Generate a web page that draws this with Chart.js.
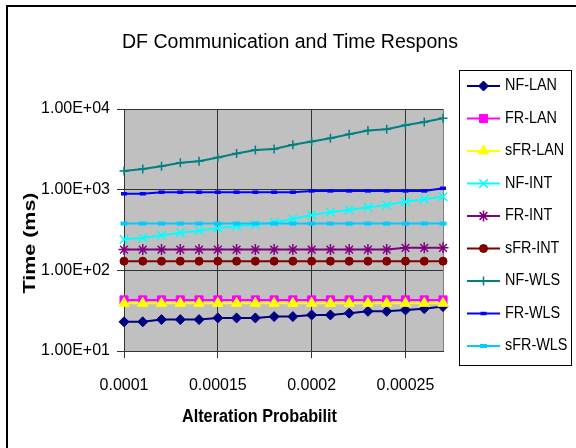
<!DOCTYPE html>
<html>
<head>
<meta charset="utf-8">
<script src="https://cdn.jsdelivr.net/npm/chart.js@4/dist/chart.umd.min.js"></script>
<style>
  html, body { margin: 0; padding: 0; background: #fff; }
</style>
</head>
<body>
<canvas id="chart" width="576" height="448"></canvas>
<script>
// x values: alteration probability
const xValues = [0.0001, 0.00011, 0.00012, 0.00013, 0.00014, 0.00015, 0.00016, 0.00017, 0.00018,
  0.00019, 0.0002, 0.00021, 0.00022, 0.00023, 0.00024, 0.00025, 0.00026, 0.00027];
const xTicks = [0.0001, 0.00015, 0.0002, 0.00025];
const yTicks = [10, 100, 1000, 10000];

// series values, time in ms
const nfLan = [23, 23, 24.5, 24.5, 24.5, 25.7, 25.7, 25.7, 26.7, 26.7, 28, 28, 29.4, 31, 31, 32.3, 33.5, 35.5];
const frLan = [43, 43, 43, 43, 43, 43, 43, 43, 43, 43, 43, 43, 43, 43, 43, 43, 43, 43];
const sfrLan = [39, 39, 39, 39, 39, 39, 39, 39, 39, 39, 39, 39, 39, 39, 39, 39, 39, 39];
const nfInt = [243, 252, 272, 293, 310, 332, 352, 368, 394, 433, 486, 525, 560, 605, 646, 710, 767, 819];
const frInt = [181, 181, 181, 181, 181, 181, 181, 181, 181, 181, 181, 181, 181, 181, 181, 190, 190, 190];
const sfrInt = [130, 130, 130, 130, 130, 130, 130, 130, 130, 130, 130, 130, 130, 130, 130, 130, 130, 130];
const nfWls = [1700, 1800, 1950, 2150, 2250, 2500, 2800, 3100, 3200, 3600, 3950, 4350, 4850, 5400, 5600, 6300, 6900, 7700];
const frWls = [890, 890, 930, 930, 930, 930, 930, 930, 930, 930, 965, 965, 965, 965, 965, 965, 965, 1040];
const sfrWls = [380, 380, 380, 380, 380, 380, 380, 380, 380, 380, 380, 380, 380, 380, 380, 380, 380, 380];

const FONT = "'Liberation Sans', Arial, sans-serif";

function series(label, values, color, pointStyle, radius, pointBorderWidth) {
  return {
    label,
    data: values.map((v, i) => ({ x: xValues[i], y: v })),
    borderColor: color,
    backgroundColor: color,
    pointBackgroundColor: color,
    pointBorderColor: color,
    borderWidth: 2,
    pointStyle,
    pointRadius: radius,
    pointBorderWidth: pointBorderWidth,
    tension: 0,
    clip: 10,
  };
}

const datasets = [
  series("NF-LAN", nfLan, "#000080", "rectRot", 5, 1),
  series("FR-LAN", frLan, "#ff00ff", "rect", 5.7, 1),
  series("sFR-LAN", sfrLan, "#ffff00", "triangle", 6, 1),
  series("NF-INT", nfInt, "#00ffff", "crossRot", 6, 1.5),
  series("FR-INT", frInt, "#800080", "star", 5.5, 1.5),
  series("sFR-INT", sfrInt, "#800000", "circle", 4, 1),
  series("NF-WLS", nfWls, "#008080", "cross", 4.5, 1.5),
  series("FR-WLS", frWls, "#0000ff", "line", 3, 3.5),
  series("sFR-WLS", sfrWls, "#00ccff", "line", 3.5, 4),
];
// later series drawn on top, like the original
datasets.forEach((d, i) => { d.order = datasets.length - i; });

function fitText(ctx, text, x, y, width, font, align) {
  ctx.save();
  ctx.font = font;
  const w = ctx.measureText(text).width;
  ctx.translate(x, y);
  ctx.scale(width / w, 1);
  ctx.textAlign = align || "left";
  ctx.fillText(text, 0, 0);
  ctx.restore();
}

const decor = {
  id: "decor",
  beforeDraw(chart) {
    const { ctx, chartArea: a } = chart;
    ctx.save();
    ctx.fillStyle = "#fff";
    ctx.fillRect(0, 0, chart.width, chart.height);
    ctx.fillStyle = "#c0c0c0";
    ctx.fillRect(a.left, a.top, a.right - a.left, a.bottom - a.top);
    ctx.restore();
  },
  beforeDatasetsDraw(chart) {
    const { ctx, chartArea: a } = chart;
    ctx.save();
    ctx.strokeStyle = "#808080";
    ctx.lineWidth = 1;
    ctx.beginPath();
    ctx.moveTo(a.right + 0.5, a.top);
    ctx.lineTo(a.right + 0.5, a.bottom);
    ctx.stroke();
    ctx.restore();
  },
  afterDraw(chart) {
    const ctx = chart.ctx;
    ctx.save();
    // outer chart border
    ctx.strokeStyle = "#000";
    ctx.lineWidth = 2;
    ctx.strokeRect(7, 6, 700, 700);

    ctx.fillStyle = "#000";
    ctx.textBaseline = "alphabetic";
    // title
    fitText(ctx, "DF Communication and Time Respons", 122, 48, 336, "20px " + FONT);
    // x axis title
    ctx.textBaseline = "middle";
    fitText(ctx, "Alteration Probabilit", 182, 417, 155, "bold 18px " + FONT);
    // y axis title
    ctx.save();
    ctx.translate(31, 243);
    ctx.rotate(-Math.PI / 2);
    fitText(ctx, "Time (ms)", 0, 0, 101, "bold 16px " + FONT, "center");
    ctx.restore();

    // legend
    ctx.strokeStyle = "#000";
    ctx.lineWidth = 1;
    ctx.strokeRect(459.5, 70.5, 112, 295);
    chart.data.datasets.forEach((d, i) => {
      const y = 86 + i * 32.5;
      ctx.strokeStyle = d.borderColor;
      ctx.lineWidth = 2;
      ctx.beginPath();
      ctx.moveTo(467, y);
      ctx.lineTo(500, y);
      ctx.stroke();
      ctx.fillStyle = d.pointBackgroundColor;
      ctx.strokeStyle = d.pointBorderColor;
      ctx.lineWidth = d.pointBorderWidth;
      Chart.helpers.drawPoint(ctx, { pointStyle: d.pointStyle, radius: d.pointRadius, rotation: 0, borderWidth: d.pointBorderWidth }, 483.5, y);
      ctx.fillStyle = "#000";
      ctx.textBaseline = "middle";
      ctx.save();
      ctx.font = "16px " + FONT;
      ctx.translate(505, y);
      ctx.scale(0.9, 1);
      ctx.fillText(d.label, 0, 0);
      ctx.restore();
    });
    ctx.restore();
  },
};

new Chart(document.getElementById("chart"), {
  type: "line",
  data: { datasets },
  options: {
    responsive: false,
    animation: false,
    layout: { padding: { left: 0, right: 133, top: 109, bottom: 0 } },
    plugins: { legend: { display: false }, tooltip: { enabled: false }, title: { display: false } },
    scales: {
      x: {
        type: "linear",
        min: 0.0001,
        max: 0.00027,
        afterBuildTicks: (s) => { s.ticks = xTicks.map((v) => ({ value: v })); },
        afterFit: (s) => { s.height = 97; },
        ticks: {
          autoSkip: false,
          maxRotation: 0,
          padding: 18,
          color: "#000",
          font: { family: FONT, size: 16 },
          callback: (v) => String(v),
        },
        grid: { color: "#333", lineWidth: 1, tickLength: 7, tickColor: "#333" },
        border: { color: "#333", width: 1 },
      },
      y: {
        type: "logarithmic",
        min: 10,
        max: 10000,
        afterBuildTicks: (s) => { s.ticks = yTicks.map((v) => ({ value: v })); },
        afterFit: (s) => { s.width = 124; },
        ticks: {
          autoSkip: false,
          padding: 7,
          color: "#000",
          font: { family: FONT, size: 16 },
          callback: (v) => "1.00E+" + String(Math.round(Math.log10(v))).padStart(2, "0"),
        },
        grid: { color: "#333", lineWidth: 1, tickLength: 7, tickColor: "#333" },
        border: { color: "#333", width: 1 },
      },
    },
  },
  plugins: [decor],
});
</script>
</body>
</html>
